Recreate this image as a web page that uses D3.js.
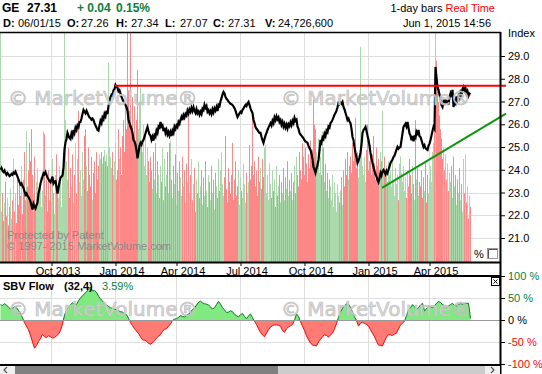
<!DOCTYPE html>
<html>
<head>
<meta charset="utf-8">
<script src="https://cdn.jsdelivr.net/npm/d3@7"></script>
<style>
body { margin: 0; background: #fff; }
svg { display: block; font-family: "Liberation Sans", Arial, sans-serif; }
</style>
</head>
<body>
<div id="chart"></div>
<script>
// GE daily closes, one per trading day (index 0 = Jul 19 2013, index 470 = Jun 1 2015)
const closes = [
  24.00, 24.08, 23.95, 23.90, 23.97, 23.85, 23.78, 23.86, 23.80, 23.72,
  23.75, 23.82, 23.78, 23.88, 23.84, 23.92, 23.80, 23.70, 23.58, 23.46,
  23.35, 23.40, 23.28, 23.20, 23.05, 22.90, 22.96, 22.85, 22.80, 22.72,
  22.60, 22.42, 22.25, 22.50, 22.38, 22.30, 22.44, 22.55, 22.95, 23.15,
  23.40, 23.55, 23.70, 23.85, 23.80, 23.90, 23.78, 23.65, 23.58, 23.50,
  23.45, 23.58, 23.70, 23.40, 23.48, 23.50, 23.25, 22.95, 23.20, 23.45,
  23.65, 23.70, 23.75, 24.10, 24.90, 25.20, 25.35, 25.62, 25.50, 25.40,
  25.35, 25.60, 25.48, 25.75, 25.62, 25.85, 25.75, 25.95, 25.88, 26.10,
  26.10, 26.25, 26.45, 26.63, 26.55, 26.48, 26.60, 26.50, 26.38, 26.30,
  26.27, 26.20, 26.25, 26.19, 26.05, 25.95, 25.85, 25.75, 25.72, 25.95,
  26.15, 26.05, 26.30, 26.22, 26.45, 26.35, 26.60, 26.45, 26.80, 26.95,
  27.20, 27.30, 27.25, 27.50, 27.55, 27.73, 27.65, 27.60, 27.45, 27.50,
  27.35, 27.20, 27.10, 27.00, 26.95, 26.85, 26.75, 26.60, 26.20, 26.05,
  25.90, 25.80, 25.62, 25.31, 25.25, 25.09, 24.85, 24.50, 24.75, 25.05,
  25.18, 25.10, 25.25, 25.31, 25.45, 25.60, 25.75, 25.88, 25.70, 25.55,
  25.50, 25.32, 25.45, 25.28, 25.52, 25.45, 25.72, 25.62, 25.90, 25.85,
  26.10, 25.90, 25.95, 25.70, 25.85, 25.62, 25.75, 25.55, 25.66, 25.50,
  25.65, 25.48, 25.72, 25.62, 25.90, 25.80, 25.95, 25.88, 26.10, 26.02,
  26.19, 26.32, 26.18, 26.40, 26.30, 26.45, 26.38, 26.60, 26.48, 26.65,
  26.55, 26.72, 26.58, 26.75, 26.60, 26.50, 26.66, 26.48, 26.56, 26.42,
  26.55, 26.45, 26.68, 26.62, 26.85, 26.72, 26.80, 26.55, 26.62, 26.48,
  26.58, 26.45, 26.65, 26.52, 26.70, 26.60, 26.75, 26.58, 26.85, 26.80,
  27.00, 27.15, 27.30, 27.42, 27.35, 27.20, 27.12, 27.07, 27.00, 26.95,
  26.90, 26.88, 26.85, 26.78, 26.70, 26.60, 26.45, 26.32, 26.40, 26.48,
  26.55, 26.50, 26.63, 26.70, 26.78, 26.85, 26.80, 26.92, 26.98, 26.85,
  26.70, 26.58, 26.49, 26.20, 26.05, 25.88, 25.80, 25.75, 25.68, 25.62,
  25.62, 25.45, 25.30, 25.18, 25.35, 25.50, 25.62, 25.75, 25.85, 25.95,
  26.05, 25.95, 26.15, 26.05, 26.30, 26.18, 26.35, 26.22, 26.30, 26.10,
  26.18, 25.98, 26.10, 25.90, 26.02, 25.85, 25.98, 25.82, 26.00, 25.92,
  26.08, 25.96, 26.15, 26.05, 26.28, 26.15, 26.20, 25.90, 25.80, 25.62,
  25.55, 25.50, 25.44, 25.38, 25.30, 25.25, 25.22, 25.18, 25.05, 24.95,
  24.87, 24.70, 24.45, 24.12, 24.00, 23.86, 24.05, 24.20, 24.43, 24.85,
  25.31, 25.20, 25.42, 25.35, 25.58, 25.48, 25.72, 25.65, 25.90, 25.85,
  26.05, 26.10, 26.19, 26.30, 26.42, 26.49, 26.60, 26.75, 26.93, 26.88,
  26.95, 26.90, 26.98, 26.76, 26.65, 26.50, 26.35, 26.19, 26.25, 26.12,
  26.05, 25.80, 25.44, 25.31, 25.00, 24.74, 24.55, 24.30, 24.40, 24.55,
  24.74, 25.10, 25.62, 25.75, 25.80, 25.88, 25.70, 25.50, 25.31, 25.05,
  24.74, 24.50, 24.30, 24.12, 23.95, 23.80, 23.70, 23.55, 23.45, 23.62,
  23.86, 23.75, 23.92, 23.99, 23.90, 23.80, 23.95, 23.86, 24.00, 24.15,
  24.30, 24.38, 24.45, 24.56, 24.62, 24.75, 24.88, 25.00, 24.92, 24.98,
  25.00, 25.30, 25.60, 25.88, 25.95, 26.02, 25.90, 26.10, 25.85, 25.60,
  25.50, 25.30, 25.48, 25.25, 25.45, 25.40, 25.68, 25.60, 25.75, 25.48,
  25.44, 25.30, 25.15, 25.00, 25.08, 24.95, 24.90, 24.87, 25.05, 25.15,
  25.31, 25.50, 25.70, 25.88, 25.80, 28.52, 28.05, 27.64, 27.51, 27.30,
  27.15, 26.85, 26.76, 26.98, 26.85, 27.10, 26.90, 27.05, 26.85, 27.20,
  27.35, 27.20, 27.51, 26.76, 27.00, 26.92, 27.22, 27.08, 27.25, 27.15,
  27.40, 27.30, 27.55, 27.64, 27.48, 27.58, 27.35, 27.45, 27.25, 27.35,
  27.31
];

// daily volume, millions of shares
const volumes = [
  120, 22, 30, 18, 26, 35, 20, 28, 16, 24,
  32, 19, 27, 45, 22, 30, 17, 38, 25, 34,
  29, 42, 21, 36, 48, 27, 57, 33, 40, 52,
  44, 58, 38, 30, 46, 25, 35, 41, 28, 33,
  37, 24, 31, 57, 56, 29, 36, 22, 40, 27,
  34, 26, 45, 30, 21, 38, 47, 32, 28, 42,
  35, 24, 39, 48, 105, 62, 44, 36, 50, 28,
  41, 33, 47, 26, 38, 52, 30, 45, 66, 35,
  40, 29, 48, 36, 55, 58, 42, 31, 50, 38,
  33, 46, 27, 39, 44, 30, 48, 36, 42, 47,
  45, 48, 43, 46, 49, 44, 47, 42, 87, 50,
  46, 41, 48, 38, 44, 52, 36, 40, 58, 45,
  50, 38, 55, 62, 48, 70, 58, 110, 75, 66,
  105, 60, 72, 55, 68, 50, 62, 84, 58, 70,
  76, 52, 48, 60, 42, 55, 38, 50, 44, 35,
  46, 40, 32, 48, 36, 52, 30, 44, 38, 28,
  42, 35, 50, 27, 45, 33, 38, 48, 30, 52,
  53, 36, 28, 42, 34, 47, 25, 39, 31, 44,
  37, 29, 46, 33, 40, 26, 43, 35, 66, 30,
  38, 45, 27, 34, 41, 22, 36, 30, 44, 28,
  33, 40, 25, 37, 29, 44, 31, 24, 38, 35,
  27, 42, 30, 36, 23, 39, 33, 28, 45, 31,
  40, 48, 34, 29, 37, 55, 32, 26, 41, 35,
  30, 38, 52, 27, 36, 44, 29, 33, 40, 25,
  37, 31, 28, 43, 34, 26, 39, 30, 35, 51,
  36, 42, 66, 38, 44, 33, 40, 29, 46, 35,
  41, 32, 45, 37, 50, 51, 30, 38, 27, 43,
  34, 28, 40, 31, 36, 24, 42, 29, 33, 38,
  26, 35, 30, 41, 27, 37, 32, 44, 29, 36,
  31, 39, 27, 35, 42, 30, 46, 38, 33, 48,
  40, 36, 52, 46, 38, 50, 43, 35, 47, 41,
  53, 44, 49, 71, 60, 58, 48, 42, 54, 39,
  46, 38, 57, 50, 35, 43, 31, 39, 28, 36,
  33, 27, 38, 24, 35, 30, 22, 34, 29, 26,
  31, 37, 25, 40, 33, 45, 38, 48, 36, 42,
  46, 39, 52, 44, 50, 63, 41, 48, 37, 45,
  94, 53, 42, 38, 46, 35, 49, 60, 40, 44,
  51, 38, 47, 55, 43, 36, 50, 42, 45, 39,
  48, 44, 66, 40, 46, 37, 42, 35, 44, 38,
  40, 33, 45, 36, 29, 41, 34, 38, 27, 43,
  46, 39, 35, 42, 31, 37, 28, 40, 33, 45,
  38, 30, 42, 34, 27, 62, 36, 41, 29, 35,
  33, 40, 28, 37, 31, 44, 26, 38, 30, 36,
  42, 35, 48, 52, 60, 130, 88, 78, 70, 64,
  58, 54, 45, 50, 40, 47, 36, 43, 31, 39,
  35, 42, 28, 46, 33, 38, 25, 36, 30, 41,
  27, 34, 22, 45, 30, 47, 26, 33, 19, 29,
  24
];

// SBV Flow (32,4) in %, read every 2nd trading day
const sbvStep = 2;
const sbvFlow = [
  35, 33, 37, 34, 29, 25, 27, 30, 28, 22,
  14, 5, -6, -14, -22, -35, -50, -64, -58, -49,
  -42, -33, -38, -40, -36, -38, -41, -40, -36, -32,
  -24, -9, 11, 22, 31, 35, 39, 36, 35, 44,
  50, 55, 60, 64, 70, 75, 66, 67, 63, 54,
  48, 43, 38, 34, 31, 28, 26, 25, 23, 21,
  19, 18, 14, 12, 4, -6, -13, -20, -25, -31,
  -38, -45, -46, -48, -53, -55, -52, -47, -41, -37,
  -33, -26, -21, -20, -14, -9, -1, 2, 3, 6,
  10, 8, 7, 10, 13, 18, 24, 27, 34, 40,
  43, 39, 37, 36, 34, 30, 25, 28, 35, 42,
  36, 28, 23, 17, 18, 21, 19, 13, 10, 7,
  12, 15, 8, 3, 9, 14, 5, -3, -10, -20,
  -28, -34, -38, -30, -22, -16, -13, -11, -11, -12,
  -14, -24, -28, -20, -16, -13, -10, -1, 14, 8,
  -4, -14, -24, -36, -45, -52, -57, -58, -59, -50,
  -44, -38, -34, -35, -39, -34, -30, -20, -8, 6,
  18, 27, 32, 37, 36, 29, 18, 7, -1, -14,
  -7, -5, -8, -10, -14, -22, -30, -38, -48, -57,
  -58, -59, -48, -39, -33, -34, -35, -32, -30, -20,
  -12, -7, -3, 10, 23, 28, 35, 30, 24, 28,
  34, 38, 21, 25, 32, 30, 28, 32, 38, 42,
  40, 35, 33, 30, 32, 35, 38, 33, 32, 35,
  37, 36, 38, 38, 38, 3.59
];

// x axis: trading-day index of each quarter start
const quarterIdx = [51, 115, 176, 240, 304, 368, 429];
const quarterLabels = ["Oct 2013", "Jan 2014", "Apr 2014", "Jul 2014", "Oct 2014", "Jan 2015", "Apr 2015"];
const priceTicks = [21, 22, 23, 24, 25, 26, 27, 28, 29];
const sbvTicks = [100, 50, 0, -50, -100];
const sbvTickLabels = ["100 %", "50 %", "0 %", "-50 %", "-100 %"];

// hand drawn trend lines (index, price)
const resistance = [[115, 27.69], [506, 27.69]];
const support = [[382, 23.2], [506, 26.47]];

const quote = {sym: "GE", last: "27.31", chg: "+ 0.04", pct: "0.15%"};
const ohlc = [["D:", "06/01/15"], ["O:", "27.26"], ["H:", "27.34"], ["L:", "27.07"], ["C:", "27.31"], ["V:", "24,726,600"]];

const width = 542, height = 374;
const plotR = 500;
const main = {top: 32, bottom: 262};
const low = {top: 276, bottom: 364};
const green = "#0a8040", red = "#ff0000";

const x = d3.scaleLinear().domain([0, 500]).range([0, plotR]);
const y = d3.scaleLinear().domain([21, 29]).range([238, 56]);
const yVol = d3.scaleLinear().domain([0, 100]).range([main.bottom, main.top + 1]).clamp(true);
const ySbv = d3.scaleLinear().domain([-100, 100]).range([low.bottom, low.top]);

const svg = d3.select("#chart").append("svg")
    .attr("width", width).attr("height", height);

const defs = svg.append("defs");
defs.append("clipPath").attr("id", "clipMain").append("rect")
    .attr("x", 0).attr("y", main.top).attr("width", plotR).attr("height", main.bottom - main.top);
defs.append("clipPath").attr("id", "clipPos").append("rect")
    .attr("x", 0).attr("y", low.top).attr("width", plotR).attr("height", ySbv(0) - low.top);
defs.append("clipPath").attr("id", "clipNeg").append("rect")
    .attr("x", 0).attr("y", ySbv(0)).attr("width", plotR).attr("height", low.bottom - ySbv(0));

// grid
const grid = svg.append("g").attr("stroke", "#dedede").attr("stroke-width", 1);
grid.selectAll(".hg").data(priceTicks).enter().append("line")
    .attr("x1", 0).attr("x2", plotR)
    .attr("y1", d => Math.round(y(d)) + 0.5).attr("y2", d => Math.round(y(d)) + 0.5);
grid.selectAll(".vg").data(quarterIdx).enter().append("line")
    .attr("x1", d => x(d) + 0.5).attr("x2", d => x(d) + 0.5)
    .attr("y1", main.top).attr("y2", main.bottom);
grid.selectAll(".vg2").data(quarterIdx).enter().append("line")
    .attr("x1", d => x(d) + 0.5).attr("x2", d => x(d) + 0.5)
    .attr("y1", low.top).attr("y2", low.bottom);
grid.selectAll(".hg2").data([50, -50]).enter().append("line")
    .attr("x1", 0).attr("x2", plotR)
    .attr("y1", d => Math.round(ySbv(d)) + 0.5).attr("y2", d => Math.round(ySbv(d)) + 0.5);

// volume bars
const gMain = svg.append("g").attr("clip-path", "url(#clipMain)");
gMain.selectAll("rect.vol").data(volumes).enter().append("rect")
    .attr("x", (d, i) => x(i)).attr("width", 1)
    .attr("y", d => yVol(d)).attr("height", d => main.bottom - yVol(d))
    .attr("fill", (d, i) => (i === 0 || closes[i] >= closes[i - 1]) ? "#acd9ac" : "#ff8787");

// SBV flow
const sx = (d, j) => x(j * sbvStep) + 0.5;
const sbvArea = d3.area().x(sx).y0(ySbv(0)).y1(d => ySbv(d));
const sbvLine = d3.line().x(sx).y(d => ySbv(d));
svg.append("path").datum(sbvFlow).attr("d", sbvArea).attr("fill", "#80ea80").attr("clip-path", "url(#clipPos)");
svg.append("path").datum(sbvFlow).attr("d", sbvArea).attr("fill", "#ff7b73").attr("clip-path", "url(#clipNeg)");
svg.append("path").datum(sbvFlow).attr("d", sbvLine).attr("fill", "none").attr("stroke", "#007a20").attr("clip-path", "url(#clipPos)");
svg.append("path").datum(sbvFlow).attr("d", sbvLine).attr("fill", "none").attr("stroke", red).attr("clip-path", "url(#clipNeg)");
svg.append("line").attr("x1", 0).attr("x2", plotR).attr("y1", ySbv(0) + 0.5).attr("y2", ySbv(0) + 0.5)
    .attr("stroke", "#9a9a9a");

// watermark
const wm = svg.append("g").attr("font-family", "'DejaVu Sans', Verdana, sans-serif")
    .attr("font-size", 20).attr("fill", "#d4d4d4").attr("fill-opacity", 0.9)
    .attr("stroke", "#bcbcbc").attr("stroke-width", 0.6);
[[8, 105], [281, 105], [8, 316], [281, 316]].forEach(p => {
  wm.append("text").attr("x", p[0]).attr("y", p[1]).text("\u00a9 MarketVolume\u00ae");
});
svg.append("text").attr("x", 7).attr("y", 239).attr("font-size", 11).attr("fill", "#8a8a8a")
    .text("Protected by Patent");
svg.append("text").attr("x", 7).attr("y", 250).attr("font-size", 11).attr("fill", "#8a8a8a")
    .text("\u00a9 1997- 2015 MarketVolume.com");

// price line
const priceLine = d3.line().x((d, i) => x(i) + 0.5).y(d => y(d));
gMain.append("path").datum(closes).attr("d", priceLine)
    .attr("fill", "none").attr("stroke", "#000").attr("stroke-width", 2.2).attr("stroke-linejoin", "miter");

// trend lines
const tl = d3.line().x(d => x(d[0])).y(d => y(d[1]));
svg.append("path").datum(resistance).attr("d", tl).attr("stroke", red).attr("stroke-width", 2).attr("fill", "none");
svg.append("path").datum(support).attr("d", tl).attr("stroke", "#0f960f").attr("stroke-width", 2).attr("fill", "none");

// frame lines
const frame = svg.append("g").attr("stroke", "#000");
frame.append("line").attr("x1", 0).attr("x2", plotR + 1).attr("y1", main.top + 0.5).attr("y2", main.top + 0.5).attr("stroke-width", 1.5);
frame.append("line").attr("x1", 0).attr("x2", plotR + 1).attr("y1", main.bottom + 0.5).attr("y2", main.bottom + 0.5).attr("stroke-width", 2);
frame.append("line").attr("x1", 0).attr("x2", plotR + 1).attr("y1", low.top).attr("y2", low.top).attr("stroke-width", 2);
frame.append("line").attr("x1", 0).attr("x2", plotR + 1).attr("y1", low.bottom + 1).attr("y2", low.bottom + 1).attr("stroke-width", 2);
frame.append("line").attr("x1", plotR + 0.5).attr("x2", plotR + 0.5).attr("y1", main.top).attr("y2", height).attr("stroke-width", 2);

// right axes
const yAxis = d3.axisRight(y).tickValues(priceTicks).tickFormat(d3.format(".1f")).tickSize(4).tickPadding(3);
svg.append("g").attr("transform", `translate(${plotR + 1},0)`).call(yAxis)
    .call(g => g.select(".domain").remove())
    .call(g => g.selectAll("text").attr("font-size", 11).attr("font-family", "'Liberation Sans', Arial, sans-serif").attr("fill", "#000"))
    .call(g => g.selectAll("line").attr("stroke", "#000"));
svg.append("text").attr("x", 508).attr("y", 37).attr("font-size", 11).text("Index");

const sAxis = d3.axisRight(ySbv).tickValues(sbvTicks).tickFormat((d, i) => sbvTickLabels[i]).tickSize(4).tickPadding(3);
svg.append("g").attr("transform", `translate(${plotR + 1},0)`).call(sAxis)
    .call(g => g.select(".domain").remove())
    .call(g => g.selectAll("text").attr("font-size", 11).attr("font-family", "'Liberation Sans', Arial, sans-serif")
        .attr("fill", d => d > 0 ? green : (d < 0 ? red : "#000")))
    .call(g => g.selectAll("line").attr("stroke", "#000"));

// bottom time axis
const xAxis = d3.axisBottom(x).tickValues(quarterIdx).tickFormat((d, i) => quarterLabels[i]).tickSize(3).tickPadding(1);
svg.append("g").attr("transform", `translate(0.5,${main.bottom + 1})`).call(xAxis)
    .call(g => g.select(".domain").remove())
    .call(g => g.selectAll("text").attr("font-size", 11).attr("font-family", "'Liberation Sans', Arial, sans-serif")
        .attr("fill", "#000").attr("dx", 6))
    .call(g => g.selectAll("line").attr("stroke", "#000"));

// header
const h1 = svg.append("text").attr("x", 2).attr("y", 12).attr("font-size", 12).attr("font-weight", "bold");
h1.append("tspan").text(quote.sym);
h1.append("tspan").attr("x", 27).text(quote.last);
h1.append("tspan").attr("x", 77).attr("fill", green).text(quote.chg);
h1.append("tspan").attr("x", 116).attr("fill", green).text(quote.pct);

const h2 = svg.append("text").attr("y", 27).attr("font-size", 11);
const h2x = [3, 67, 116, 165, 213, 265];
const h2v = [18, 81, 131, 180, 228, 278];
ohlc.forEach((d, i) => {
  h2.append("tspan").attr("x", h2x[i]).attr("font-weight", "bold").text(d[0]);
  h2.append("tspan").attr("x", h2v[i]).text(d[1]);
});
const h3 = svg.append("text").attr("x", 495).attr("y", 12).attr("font-size", 11).attr("text-anchor", "end");
h3.append("tspan").text("1-day bars ");
h3.append("tspan").attr("fill", red).text("Real Time");
svg.append("text").attr("x", 491).attr("y", 27).attr("font-size", 11).attr("text-anchor", "end")
    .text("Jun 1, 2015 14:56");

// SBV title
const st = svg.append("text").attr("x", 3).attr("y", 290).attr("font-size", 11);
st.append("tspan").attr("font-weight", "bold").text("SBV Flow");
st.append("tspan").attr("x", 64).attr("font-weight", "bold").text("(32,4)");
st.append("tspan").attr("x", 102).attr("fill", green).text(d3.format(".2f")(sbvFlow[sbvFlow.length - 1]) + "%");

// close box
svg.append("rect").attr("x", 491.5).attr("y", 277.5).attr("width", 8).attr("height", 8)
    .attr("fill", "#fff").attr("stroke", "#000");
svg.append("path").attr("d", "M493.5,279.5L497.5,283.5M497.5,279.5L493.5,283.5").attr("stroke", "#000");

// % toggle
svg.append("text").attr("x", 474).attr("y", 258).attr("font-size", 11).text("%");
svg.append("rect").attr("x", 487.5).attr("y", 248.5).attr("width", 10).attr("height", 10)
    .attr("fill", "#fff").attr("stroke", "#999");
svg.append("path").attr("d", "M488.5,258V249.5H497").attr("stroke", "#555").attr("fill", "none");

// scrollbar
const sb = svg.append("g");
sb.append("rect").attr("x", 0).attr("y", 366).attr("width", plotR).attr("height", 8).attr("fill", "#f0f0f0");
sb.append("rect").attr("x", 15).attr("y", 366).attr("width", 263).attr("height", 8).attr("fill", "#808080");
sb.append("rect").attr("x", 278).attr("y", 366).attr("width", 207).attr("height", 8).attr("fill", "#cccccc");
sb.append("path").attr("d", "M7,367L4,370L7,373").attr("stroke", "#555").attr("fill", "none").attr("stroke-width", 1.2);
sb.append("path").attr("d", "M491,367L494,370L491,373").attr("stroke", "#555").attr("fill", "none").attr("stroke-width", 1.2);
</script>
</body>
</html>
